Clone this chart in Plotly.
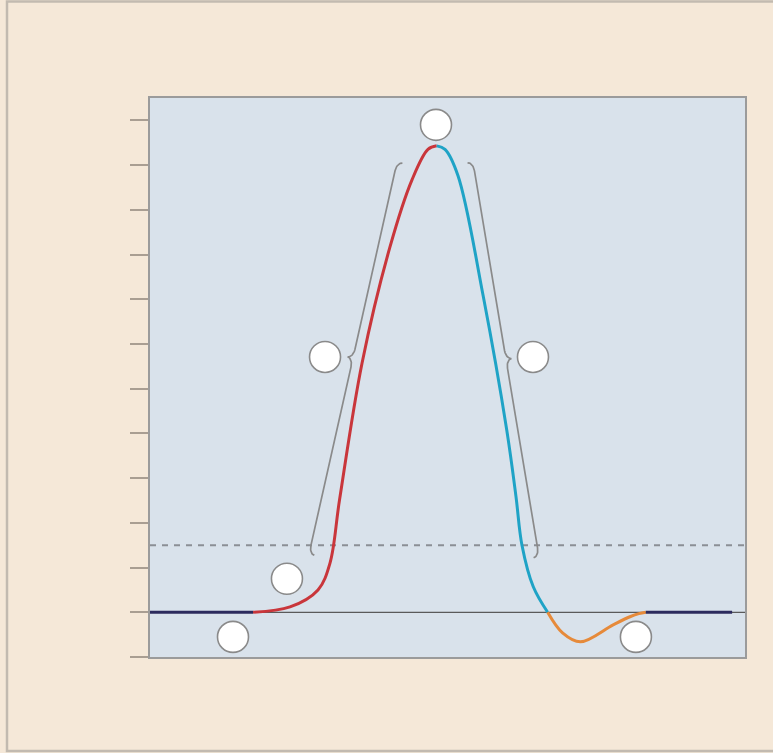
import numpy as np
import plotly.graph_objects as go

# ---- data (time in ms, membrane potential in mV) ----
rest_t = [0.0, 1.04]
rest_v = [-70, -70]

rise_t = [1.04, 1.412, 1.694, 1.815, 1.911, 2.138, 2.420, 2.642, 2.803, 2.891]
rise_v = [-70, -68.8, -65.0, -59.0, -44.9, -14.3, 11.7, 26.7, 33.5, 34.3]

fall_t = [2.891, 2.975, 3.106, 3.361, 3.597, 3.691, 3.751, 3.865, 4.01]
fall_v = [34.3, 33.5, 27.6, 0.6, -29.2, -44.2, -55.0, -64.3, -70]

under_t = [4.01, 4.16, 4.34, 4.67, 4.84, 4.93, 5.0]
under_v = [-70, -74.6, -76.6, -72.8, -71.0, -70.3, -70]

rest2_t = [5.0, 5.87]
rest2_v = [-70, -70]

resting_potential = -70
threshold = -55

tick_vals = list(range(-80, 41, 10))

# label bubbles (empty circles)
bubble_t = [2.884, 1.765, 3.862, 1.381, 0.837, 4.90]
bubble_v = [39.0, -12.9, -12.9, -62.5, -75.5, -75.5]

# braces: axis end points (t, v) and tip direction (-1 left, +1 right)
brace_left = ((1.603, -57.0), (2.491, 30.7), -1)
brace_right = ((3.923, -57.6), (3.257, 30.7), 1)

# ---- layout constants ----
W, H = 773, 753
ML, MR, MT, MB = 150, 28, 98, 96
XR = [0, 6]
YR = [-80, 45]
PW = W - ML - MR
PH = H - MT - MB
sx = PW / (XR[1] - XR[0])
sy = PH / (YR[1] - YR[0])


def to_px(t, v):
    return np.array([(t - XR[0]) * sx, (v - YR[0]) * sy])


def to_data(p):
    return p[0] / sx + XR[0], p[1] / sy + YR[0]


def brace_path(p0d, p1d, tip_dir, h=5.5, q=9.0, n=14):
    p0 = to_px(*p0d)
    p1 = to_px(*p1d)
    d = p1 - p0
    L = np.hypot(*d)
    d = d / L
    nrm = np.array([-d[1], d[0]])
    if np.sign(nrm[0]) != tip_dir:
        nrm = -nrm
    us, ws = [], []
    th = np.linspace(0, np.pi / 2, n)
    us += list(q * (1 - np.cos(th)))
    ws += list(-h * (1 - np.sin(th)))
    us += list(L / 2 - q + q * np.sin(th))
    ws += list(h * (1 - np.cos(th)))
    us += list(L / 2 + q - q * np.cos(th))
    ws += list(h * (1 - np.sin(th)))
    us += list(L - q + q * np.sin(th))
    ws += list(-h * (1 - np.cos(th)))
    xs, ys = [], []
    for u, w in zip(us, ws):
        t, v = to_data(p0 + d * u + nrm * w)
        xs.append(t)
        ys.append(v)
    return xs, ys


fig = go.Figure()

# reference lines
fig.add_trace(go.Scatter(x=XR, y=[threshold, threshold], mode="lines",
                         line=dict(color="#8b8f95", width=2, dash="6px,6px"),
                         hoverinfo="skip"))
fig.add_trace(go.Scatter(x=XR, y=[resting_potential, resting_potential], mode="lines",
                         line=dict(color="#5a5a5a", width=1.2), hoverinfo="skip"))

# braces
for p0, p1, tip in (brace_left, brace_right):
    bx, by = brace_path(p0, p1, tip)
    fig.add_trace(go.Scatter(x=bx, y=by, mode="lines",
                             line=dict(color="#8a8a8a", width=1.7), hoverinfo="skip"))

# action potential segments
segs = [
    (rest_t, rest_v, "#2c2b5e"),
    (rise_t, rise_v, "#c9363b"),
    (fall_t, fall_v, "#1fa3c6"),
    (under_t, under_v, "#e68a3a"),
    (rest2_t, rest2_v, "#2c2b5e"),
]
for t, v, c in segs:
    fig.add_trace(go.Scatter(x=t, y=v, mode="lines",
                             line=dict(color=c, width=3, shape="spline", smoothing=1.0),
                             hoverinfo="skip"))

# bubbles
fig.add_trace(go.Scatter(x=bubble_t, y=bubble_v, mode="markers",
                         marker=dict(size=31, color="#ffffff",
                                     line=dict(color="#8a8a8a", width=1.6)),
                         hoverinfo="skip"))

# outer frame
fig.add_shape(type="rect", xref="paper", yref="paper",
              x0=(7 - ML) / PW, x1=1.2, y0=(H - MB - 751) / PH, y1=(H - MB - 1.5) / PH,
              line=dict(color="#c2bab0", width=2.5), fillcolor="rgba(0,0,0,0)", layer="below")

fig.update_layout(
    width=W, height=H,
    margin=dict(l=ML, r=MR, t=MT, b=MB),
    paper_bgcolor="#f5e8d8",
    plot_bgcolor="#d9e2eb",
    showlegend=False,
    xaxis=dict(range=XR, showticklabels=False, ticks="", showgrid=False, zeroline=False,
               showline=True, mirror=True, linecolor="#9b9b9b", linewidth=2, fixedrange=True),
    yaxis=dict(range=YR, tickvals=tick_vals, showticklabels=False, ticks="outside",
               ticklen=18, tickwidth=2, tickcolor="#a99e92", showgrid=False, zeroline=False,
               showline=True, mirror=True, linecolor="#9b9b9b", linewidth=2, fixedrange=True),
)

fig.write_html("out.html", config={"displayModeBar": False},
               post_script="document.body.style.margin='0';document.body.style.overflow='hidden';")
